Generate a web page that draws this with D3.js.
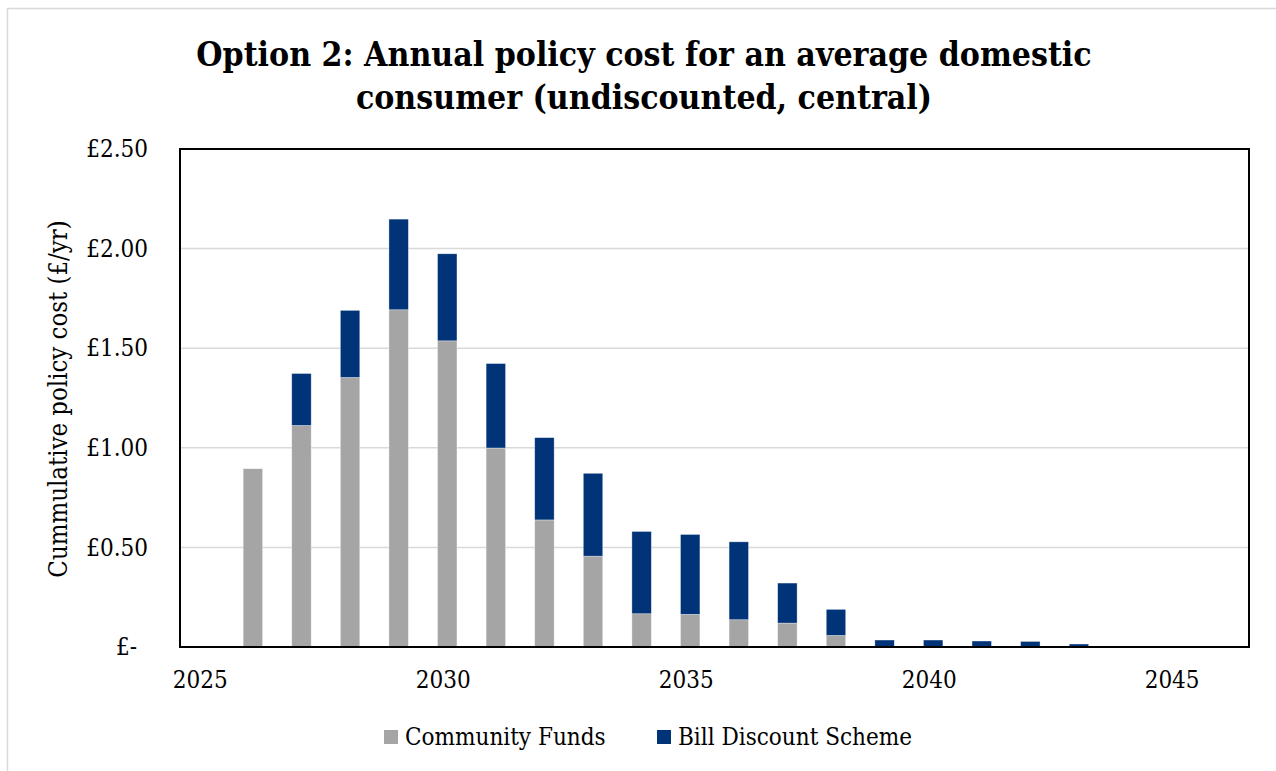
<!DOCTYPE html>
<meta charset="utf-8">
<style>
body { margin: 0; background: #fff; }
text { font-family: "DejaVu Serif Condensed", "DejaVu Serif", serif; font-stretch: condensed; fill: #000; }
.grid line { stroke: #d9d9d9; stroke-width: 1.5px; }
</style>
<svg width="1276" height="771"></svg>
<script src="https://cdn.jsdelivr.net/npm/d3@7"></script>
<script>

var years = d3.range(2025, 2047);
var communityFunds = [0, 0.895, 1.112, 1.353, 1.693, 1.537, 0.999, 0.638, 0.456, 0.167, 0.164, 0.137, 0.120, 0.058, 0, 0, 0, 0, 0, 0, 0, 0];
var billDiscount   = [0, 0, 0.261, 0.337, 0.455, 0.437, 0.424, 0.413, 0.416, 0.413, 0.401, 0.391, 0.201, 0.131, 0.035, 0.035, 0.030, 0.028, 0.015, 0, 0, 0];
var seriesNames = ["Community Funds", "Bill Discount Scheme"];
var seriesColors = ["#a5a5a5", "#003378"];
var yTicks = [0, 0.5, 1, 1.5, 2, 2.5];
var xTicks = [2025, 2030, 2035, 2040, 2045];

var svg = d3.select("svg");

var margin = {left: 180, right: 1249, top: 149, bottom: 647};

// outer chart frame
svg.append("rect")
    .attr("x", 7.5).attr("y", 8.5)
    .attr("width", 1400).attr("height", 900)
    .attr("fill", "none")
    .attr("stroke", "#d9d9d9")
    .attr("stroke-width", 1.5);

var x = d3.scaleBand()
    .domain(years)
    .range([margin.left, margin.right])
    .paddingInner(0.6)
    .paddingOuter(0.3);

var y = d3.scaleLinear()
    .domain([0, 2.5])
    .range([margin.bottom, margin.top]);

// gridlines
svg.append("g")
    .attr("class", "grid")
  .selectAll("line")
  .data(yTicks.slice(1, -1))
  .enter().append("line")
    .attr("x1", margin.left)
    .attr("x2", margin.right)
    .attr("y1", function(d) { return y(d); })
    .attr("y2", function(d) { return y(d); });

var table = years.map(function(yr, i) {
  return {year: yr, "Community Funds": communityFunds[i], "Bill Discount Scheme": billDiscount[i]};
});

var stack = d3.stack().keys(seriesNames)(table);

svg.append("g")
  .selectAll("g")
  .data(stack)
  .enter().append("g")
    .attr("fill", function(d, i) { return seriesColors[i]; })
  .selectAll("rect")
  .data(function(d) { return d.filter(function(p) { return p[1] - p[0] > 0; }); })
  .enter().append("rect")
    .attr("x", function(d) { return x(d.data.year); })
    .attr("width", x.bandwidth())
    .attr("y", function(d) { return y(d[1]); })
    .attr("height", function(d) { return y(d[0]) - y(d[1]); })
    .attr("stroke", "#fff")
    .attr("stroke-opacity", 0.5)
    .attr("stroke-width", 0.7);

// plot frame
svg.append("rect")
    .attr("x", margin.left)
    .attr("y", margin.top)
    .attr("width", margin.right - margin.left)
    .attr("height", margin.bottom - margin.top)
    .attr("fill", "none")
    .attr("stroke", "#000")
    .attr("stroke-width", 2);

// y axis labels
var yAxis = svg.append("g")
    .attr("transform", "translate(" + margin.left + ",0)")
    .call(d3.axisLeft(y)
      .tickValues(yTicks)
      .tickSize(0)
      .tickPadding(32)
      .tickFormat(function(d) { return d === 0 ? "£-" : "£" + d3.format(".2f")(d); }));
yAxis.select(".domain").remove();
yAxis.selectAll("text")
    .attr("font-size", 24)
    .attr("font-family", null)
    .attr("dx", function(d) { return d === 0 ? -11 : 0; });

// x axis labels
var xAxis = svg.append("g")
    .attr("transform", "translate(0," + margin.bottom + ")")
    .call(d3.axisBottom(x)
      .tickValues(xTicks)
      .tickSize(0)
      .tickPadding(24));
xAxis.select(".domain").remove();
xAxis.selectAll("text")
    .attr("font-size", 24)
    .attr("font-family", null)
    .attr("dx", -4);

// y axis title
svg.append("text")
    .attr("transform", "translate(67,399) rotate(-90)")
    .attr("text-anchor", "middle")
    .attr("font-size", 25.5)
    .text("Cummulative policy cost (£/yr)");

// title
var title = svg.append("text")
    .attr("text-anchor", "middle")
    .attr("font-size", 33.5)
    .attr("font-weight", "bold");
title.append("tspan").attr("x", 644).attr("y", 66).text("Option 2: Annual policy cost for an average domestic");
title.append("tspan").attr("x", 644).attr("y", 109).text("consumer (undiscounted, central)");

// legend
var legend = svg.append("g")
  .selectAll("g")
  .data(seriesNames)
  .enter().append("g")
    .attr("transform", function(d, i) { return "translate(" + [384, 657][i] + ",737)"; });
legend.append("rect")
    .attr("x", 0).attr("y", -7)
    .attr("width", 14).attr("height", 14)
    .attr("fill", function(d, i) { return seriesColors[i]; });
legend.append("text")
    .attr("x", 21)
    .attr("dy", "0.35em")
    .attr("font-size", 24)
    .text(function(d) { return d; });

</script>
